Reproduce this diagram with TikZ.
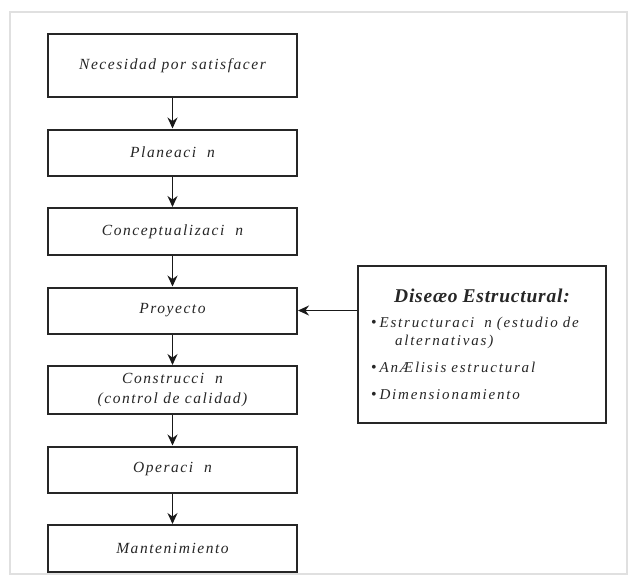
\documentclass[tikz,border=0pt]{standalone}
\usepackage{fontspec}
\setmainfont{Liberation Serif}
\newfontfamily\boxfont[LetterSpace=10]{Liberation Serif}
\newfontfamily\itemfont[LetterSpace=12]{Liberation Serif}
\newfontfamily\titlefont[LetterSpace=4]{Liberation Serif}
\usetikzlibrary{positioning,arrows.meta}
\newcommand{\dotitem}{{\upshape\fontsize{16}{16}\selectfont\raisebox{0pt}{•}}\hspace{3pt}}

\begin{document}
\begin{tikzpicture}[
    x=1pt, y=1pt,
    node distance=30.5pt,
    stage/.style={rectangle, draw=black!85, line width=2pt,
        minimum width=249pt, minimum height=46pt, align=center,
        font=\boxfont\fontsize{15.5}{20}\selectfont\itshape, text=black!85},
    design/.style={rectangle, draw=black!85, line width=2pt,
        minimum width=248pt, minimum height=157pt, text width=222pt,
        inner xsep=13pt, align=left,
        font=\itemfont\fontsize{15}{18}\selectfont\itshape, text=black!85},
    arrow/.style={-{Stealth[length=11pt, width=10pt]}, line width=1.4pt, draw=black!90},
    frame/.style={draw=black!12, line width=2pt}
]
\useasboundingbox (0,0) rectangle (628,-576);

% Page frame
\draw[frame] (10,-12) rectangle (627,-574);

% Stages of the project
\node[stage, minimum height=63pt] (need) at (172.5,-65.5) {Necesidad por satisfacer};
\node[stage, below=of need] (plan) {Planeaci~~n};
\node[stage, below=of plan, minimum height=47pt] (concept) {Conceptualizaci~~n};
\node[stage, below=of concept] (proy) {Proyecto};
\node[stage, below=of proy, minimum height=48pt] (constr) {Construcci~~n\\(control de calidad)};
\node[stage, below=of constr] (oper) {Operaci~~n};
\node[stage, below=of oper, minimum height=47pt] (mant) {Mantenimiento};

% Structural design box
\node[design] (dis) at (482,-344.5) {%
    {\centering\titlefont\fontsize{19.5}{22}\selectfont\bfseries\itshape Diseæo Estructural:\par}
    \vspace{7pt}
    \dotitem Estructuraci~~n (estudio de\par
    \hspace*{24pt}alternativas)\par
    \vspace{9pt}
    \dotitem AnÆlisis estructural\par
    \vspace{9pt}
    \dotitem Dimensionamiento};

% Arrows
\draw[arrow] (need) -- (plan);
\draw[arrow] (plan) -- (concept);
\draw[arrow] (concept) -- (proy);
\draw[arrow] (proy) -- (constr);
\draw[arrow] (constr) -- (oper);
\draw[arrow] (oper) -- (mant);
\draw[arrow] (proy.east -| dis.west) -- (proy.east);

\end{tikzpicture}
\end{document}
